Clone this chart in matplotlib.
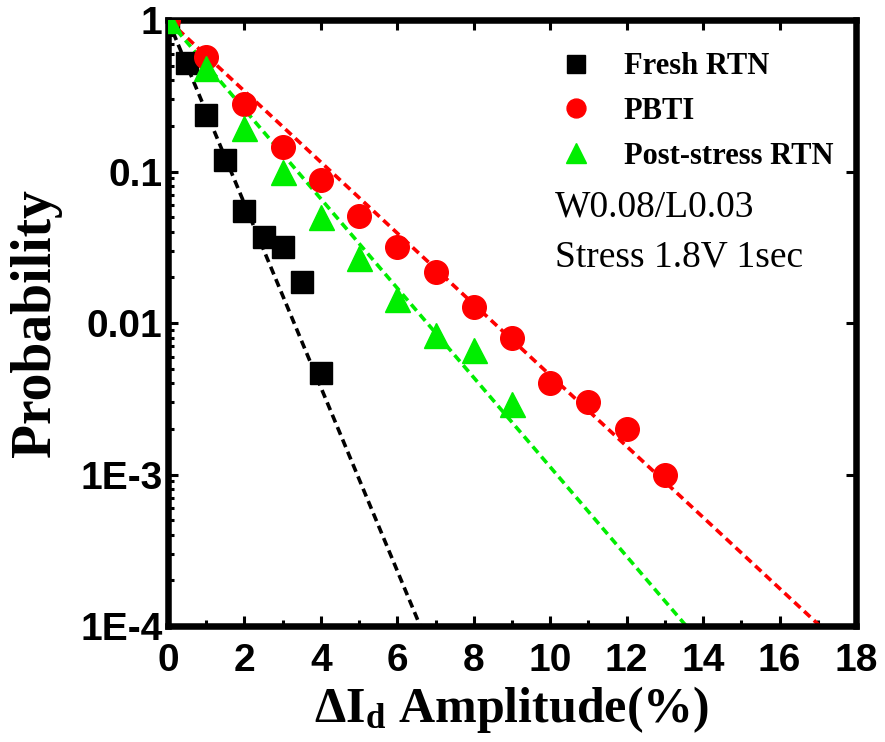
import numpy as np
import matplotlib
matplotlib.use("Agg")
import matplotlib.pyplot as plt
from matplotlib.ticker import FixedLocator, NullFormatter, LogLocator

# measured amplitude distributions
fresh_x = [0, 0.5, 1.0, 1.5, 2.0, 2.5, 3.0, 3.5, 4.0]
fresh_p = [1.0, 0.52, 0.236, 0.119, 0.055, 0.037, 0.032, 0.0186, 0.0047]

pbti_x = [0, 1, 2, 3, 4, 5, 6, 7, 8, 9, 10, 11, 12, 13]
pbti_p = [1.0, 0.57, 0.28, 0.145, 0.088, 0.051, 0.0317, 0.0218, 0.0128,
          0.0080, 0.0040, 0.0030, 0.0020, 0.0010]

post_x = [0, 1, 2, 3, 4, 5, 6, 7, 8, 9]
post_p = [1.0, 0.48, 0.194, 0.100, 0.050, 0.027, 0.0144, 0.0083, 0.0066, 0.0029]

# exponential fits: amplitude (%) per decade of probability
fit_names = ["Fresh RTN", "PBTI", "Post-stress RTN"]
fit_per_decade = [1.65, 4.265, 3.39]
fit_colors = ["black", "red", "#00ee00"]

x_ticks = [0, 2, 4, 6, 8, 10, 12, 14, 16, 18]
y_ticks = [1, 0.1, 0.01, 1e-3, 1e-4]
y_tick_labels = ["1", "0.1", "0.01", "1E-3", "1E-4"]

serif = "Liberation Serif"
sans = "Liberation Sans"

plt.rcParams["mathtext.fontset"] = "custom"
plt.rcParams["mathtext.rm"] = "Liberation Serif"
plt.rcParams["mathtext.it"] = "Liberation Serif:italic"
plt.rcParams["mathtext.bf"] = "Liberation Serif:bold"

fig = plt.figure(figsize=(8.85, 7.42), dpi=100)
ax = fig.add_axes([0.1898, 0.1563, 0.7774, 0.8167])

# fit lines first so the markers sit on top
xs = np.linspace(0, 18, 400)
for tau, col in zip(fit_per_decade, fit_colors):
    ax.plot(xs, 10 ** (-xs / tau), color=col, lw=2.6,
            linestyle=(0, (2.3, 1.4)), zorder=2)

ax.plot(fresh_x, fresh_p, "s", color="black", ms=16, mec="black",
        label="Fresh RTN", zorder=3)
ax.plot(pbti_x, pbti_p, "o", color="red", ms=17, mec="red",
        label="PBTI", zorder=3)
ax.plot(post_x, post_p, "^", color="#00ee00", ms=18, mec="#00ee00",
        label="Post-stress RTN", zorder=4)

ax.set_yscale("log")
ax.set_xlim(0, 18)
ax.set_ylim(1e-4, 1)

ax.xaxis.set_major_locator(FixedLocator(x_ticks))
ax.xaxis.set_minor_locator(FixedLocator(np.arange(1, 18, 2)))
ax.set_yticks(y_ticks)
ax.set_yticklabels(y_tick_labels)
ax.yaxis.set_minor_locator(LogLocator(base=10, subs=np.arange(2, 10)))
ax.yaxis.set_minor_formatter(NullFormatter())

for lab in ax.get_xticklabels() + ax.get_yticklabels():
    lab.set_fontfamily(sans)
    lab.set_fontweight("bold")
    lab.set_fontsize(28)

ax.tick_params(which="major", direction="in", length=7, width=2.2)
ax.tick_params(which="minor", direction="in", length=4.5, width=2.2)
ax.tick_params(which="both", top=True, right=True)
for t in ax.xaxis.get_major_ticks() + ax.xaxis.get_minor_ticks():
    t.tick2line.set_markersize(1.5)
for t in ax.yaxis.get_major_ticks() + ax.yaxis.get_minor_ticks():
    t.tick2line.set_markersize(1.5)
ax.tick_params(axis="x", pad=12)
ax.tick_params(axis="y", pad=4)

for sp in ax.spines.values():
    sp.set_linewidth(4.7)

ax.set_xlabel(r"$\mathbf{\Delta I_d}$ Amplitude(%)", fontfamily=serif,
              fontweight="bold", fontsize=36, labelpad=4)
ax.set_ylabel("Probability", fontfamily=serif, fontweight="bold",
              fontsize=40, labelpad=13)

leg = ax.legend(loc="upper left", bbox_to_anchor=(0.549, 0.972),
                frameon=False, markerscale=0.8, handlelength=1.0,
                handletextpad=1.05, borderpad=0, labelspacing=0.52,
                prop={"family": serif, "weight": "bold", "size": 22})

ax.text(0.5625, 0.691, "W0.08/L0.03", transform=ax.transAxes,
        fontfamily=serif, fontsize=27, va="center", ha="left")
ax.text(0.5625, 0.609, "Stress 1.8V 1sec", transform=ax.transAxes,
        fontfamily=serif, fontsize=27, va="center", ha="left")

fig.savefig("out.png", dpi=100)
